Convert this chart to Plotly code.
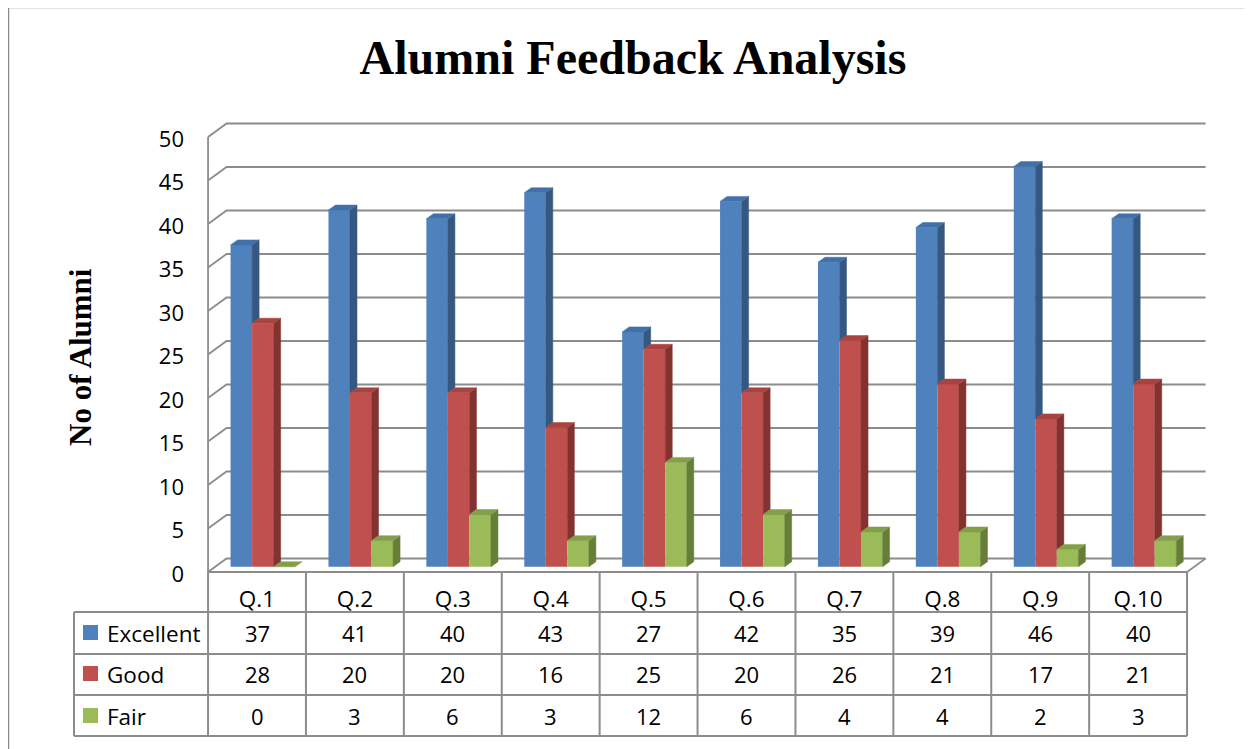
import plotly.graph_objects as go

# ---------------- data ----------------
categories = ["Q.1", "Q.2", "Q.3", "Q.4", "Q.5", "Q.6", "Q.7", "Q.8", "Q.9", "Q.10"]
excellent = [37, 41, 40, 43, 27, 42, 35, 39, 46, 40]
good = [28, 20, 20, 16, 25, 20, 26, 21, 17, 21]
fair = [0, 3, 6, 3, 12, 6, 4, 4, 2, 3]
series_names = ["Excellent", "Good", "Fair"]
y_ticks = [0, 5, 10, 15, 20, 25, 30, 35, 40, 45, 50]
title_text = "Alumni Feedback Analysis"
y_title = "No of Alumni"

series_values = [excellent, good, fair]

# ---------------- styles / layout geometry ----------------
PAGE_W, PAGE_H = 1252, 749
OFF = 8                      # page body margin
W, H = PAGE_W - OFF, PAGE_H - OFF
COL_PX = 97.9        # width of one category column (px)
X0_PX = 257          # centre of first column (page px)
Y0_PX = 572          # front-plane zero (page px)
PX_PER_UNIT = 8.7    # vertical scale


def px2x(px):
    return (px - X0_PX) / COL_PX


def py2y(py):
    return (Y0_PX - py) / PX_PER_UNIT


def px2paper(px):
    return (px - OFF) / W


def py2paper(py):
    return 1 - (py - OFF) / H


front_colors = ["#4F81BD", "#C0504D", "#9BBB59"]
side_colors = ["#36577F", "#82332F", "#667E38"]
top_colors = ["#4071AB", "#A8433F", "#839F48"]
grid_color = "#8C8C8C"
table_color = "#8C8C8C"
FONT = "Open Sans"
SERIF = "Liberation Serif"

BAR_W = 0.22
GROUP_SHIFT = 0.06
BASE = 0.6
SDX = 7 / COL_PX
SDY = 5 / PX_PER_UNIT
DX = 18.5 / COL_PX       # wall depth
DY = 13.5 / PX_PER_UNIT

n = len(categories)
fig = go.Figure()

# front faces as bars
for k, (name, vals) in enumerate(zip(series_names, series_values)):
    xs = [i + GROUP_SHIFT + (k - 1) * BAR_W for i in range(n)]
    fig.add_trace(go.Bar(
        x=xs, y=vals, base=BASE, width=BAR_W, name=name,
        marker=dict(color=front_colors[k], line=dict(width=0)),
        showlegend=False, hoverinfo="skip",
    ))

# 3D side and top faces computed from the same values
for k, vals in enumerate(series_values):
    nxt = series_values[k + 1] if k + 1 < len(series_values) else None
    sx, sy, tx, ty = [], [], [], []
    for i, v in enumerate(vals):
        xc = i + GROUP_SHIFT + (k - 1) * BAR_W
        xl, xr = xc - BAR_W / 2, xc + BAR_W / 2
        top = BASE + v
        bottom = BASE + (min(nxt[i], v) if nxt is not None else 0)
        if top > bottom:
            sx += [xr, xr, xr + SDX, xr + SDX, xr, None]
            sy += [bottom, top, top + SDY, bottom + SDY, bottom, None]
        tx += [xl, xr, xr + SDX, xl + SDX, xl, None]
        ty += [top, top, top + SDY, top + SDY, top, None]
    fig.add_trace(go.Scatter(x=sx, y=sy, mode="lines", fill="toself",
                             fillcolor=side_colors[k], line=dict(width=0.5, color=side_colors[k]),
                             showlegend=False, hoverinfo="skip"))
    fig.add_trace(go.Scatter(x=tx, y=ty, mode="lines", fill="toself",
                             fillcolor=top_colors[k], line=dict(width=0.5, color=top_colors[k]),
                             showlegend=False, hoverinfo="skip"))

shapes = []
xL = -0.5
xR = n - 0.5
# walls / gridlines
for v in y_ticks:
    shapes.append(dict(type="path", layer="below",
                       path=f"M {xL},{v} L {xL + DX},{v + DY} L {xR + DX},{v + DY}",
                       line=dict(color=grid_color, width=1.8)))
shapes.append(dict(type="line", layer="below", x0=xL, y0=0, x1=xL, y1=y_ticks[-1],
                   line=dict(color=grid_color, width=1.8)))
shapes.append(dict(type="line", layer="below", x0=xR, y0=0, x1=xR + DX, y1=DY,
                   line=dict(color=grid_color, width=1.8)))

# data table
row_lines_px = [612, 654, 695, 736]
table_left = px2x(74)
shapes.append(dict(type="line", x0=xL, y0=0, x1=xR, y1=0, line=dict(color=table_color, width=2)))
for py in row_lines_px:
    shapes.append(dict(type="line", x0=table_left, y0=py2y(py), x1=xR, y1=py2y(py),
                       line=dict(color=table_color, width=2)))
for c in range(n + 1):
    shapes.append(dict(type="line", x0=xL + c, y0=0, x1=xL + c, y1=py2y(row_lines_px[-1]),
                       line=dict(color=table_color, width=2)))
shapes.append(dict(type="line", x0=table_left, y0=py2y(row_lines_px[0]), x1=table_left,
                   y1=py2y(row_lines_px[-1]), line=dict(color=table_color, width=2)))

# legend keys in table
row_centres_px = [633, 674, 716]
for k in range(len(series_names)):
    yc = row_centres_px[k] - 0.5
    shapes.append(dict(type="rect", x0=px2x(83), x1=px2x(98),
                       y0=py2y(yc + 7.5), y1=py2y(yc - 7.5),
                       fillcolor=front_colors[k], line=dict(width=0)))

# outer border
shapes.append(dict(type="rect", xref="paper", yref="paper",
                   x0=px2paper(8.5), x1=1.05, y0=-0.05, y1=py2paper(7.5),
                   line=dict(color="#8A8A8A", width=1.5)))

annotations = []
for k, (name, vals) in enumerate(zip(series_names, series_values)):
    annotations.append(dict(x=px2x(105), y=py2y(row_centres_px[k]), text=name,
                            xanchor="left", yanchor="middle", showarrow=False,
                            font=dict(family=FONT, size=22.5, color="black")))
    for i, v in enumerate(vals):
        annotations.append(dict(x=i, y=py2y(row_centres_px[k]), text=str(v),
                                xanchor="center", yanchor="middle", showarrow=False,
                                font=dict(family=FONT, size=22, color="black")))

annotations.append(dict(xref="paper", yref="paper", x=px2paper(80), y=py2paper(357),
                        text=f"<b>{y_title}</b>", textangle=-90, showarrow=False,
                        xanchor="center", yanchor="middle",
                        font=dict(family=SERIF, size=31, color="black")))

fig.update_layout(
    width=W, height=H,
    margin=dict(l=0, r=0, t=0, b=0),
    paper_bgcolor="white", plot_bgcolor="white",
    barmode="overlay",
    title=dict(text=f"<b>{title_text}</b>", x=px2paper(633), xanchor="center",
               y=py2paper(57), yanchor="middle",
               font=dict(family=SERIF, size=48, color="black")),
    xaxis=dict(range=[px2x(OFF), px2x(PAGE_W)], domain=[0, 1], anchor="free",
               position=py2paper(Y0_PX),
               tickvals=list(range(n)), ticktext=categories,
               showgrid=False, zeroline=False, showline=False, ticks="",
               ticklabelstandoff=11,
               tickfont=dict(family=FONT, size=22.5, color="black"),
               fixedrange=True),
    yaxis=dict(range=[py2y(PAGE_H), py2y(OFF)], domain=[0, 1], anchor="free",
               position=px2paper(208),
               tickvals=y_ticks,
               showgrid=False, zeroline=False, showline=False, ticks="",
               ticklabelstandoff=24, ticklabelshift=2,
               tickfont=dict(family=FONT, size=22, color="black"),
               fixedrange=True),
    shapes=shapes,
    annotations=annotations,
    showlegend=False,
)

fig.write_html("out.html")
